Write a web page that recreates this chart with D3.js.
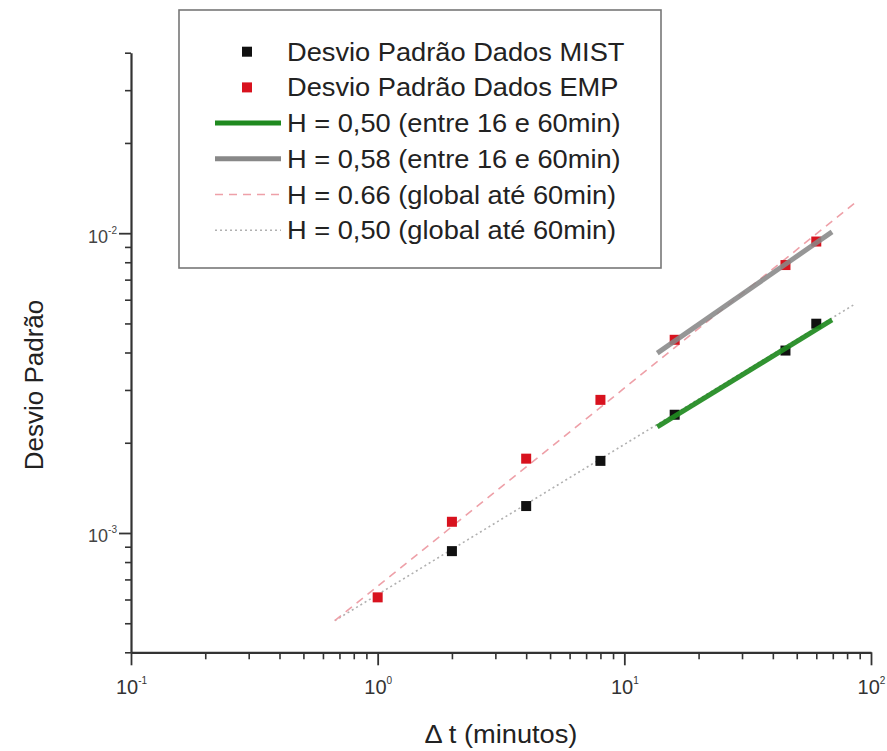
<!DOCTYPE html>
<html>
<head>
<meta charset="utf-8">
<script src="https://cdn.jsdelivr.net/npm/d3@7"></script>
<style>
  html, body { margin: 0; padding: 0; background: #fff; }
  svg { display: block; font-family: "Liberation Sans", Arial, sans-serif; }
</style>
</head>
<body>
<div id="chart"></div>
<script>
// desvio padrão x intervalo de tempo (log-log)

const TEMPOS   = [1, 2, 4, 8, 16, 45, 60];
const DP_MIST  = [null, 8.7e-4, 1.23e-3, 1.74e-3, 2.48e-3, 4.06e-3, 4.99e-3];
const DP_EMP   = [6.1e-4, 1.09e-3, 1.77e-3, 2.78e-3, 4.41e-3, 7.83e-3, 9.38e-3];

// retas ajustadas (extremos)
const AJ_MIST_T    = [13.6, 69.5];
const AJ_MIST_DP   = [2.26e-3, 5.14e-3];
const AJ_EMP_T     = [13.6, 69.5];
const AJ_EMP_DP    = [3.98e-3, 1.01e-2];
const GLOB_EMP_T   = [0.67, 88];
const GLOB_EMP_DP  = [5.1e-4, 1.28e-2];
const GLOB_MIST_T  = [0.67, 86];
const GLOB_MIST_DP = [5.1e-4, 5.8e-3];

const X_TICKS = [0.1, 1, 10, 100];
const X_EXP   = ["-1", "0", "1", "2"];
const Y_TICKS = [1e-3, 1e-2];
const Y_EXP   = ["-3", "-2"];

const LEGENDA = [
  "Desvio Padrão Dados MIST",
  "Desvio Padrão Dados EMP",
  "H = 0,50 (entre 16 e 60min)",
  "H = 0,58 (entre 16 e 60min)",
  "H = 0.66 (global até 60min)",
  "H = 0,50 (global até 60min)"
];

const W = 887, H = 751;
const ESTICA = 1.09; // texto do original é mais largo

const svg = d3.select("#chart").append("svg")
  .attr("width", W)
  .attr("height", H);

const x = d3.scaleLog().domain([0.1, 100]).range([131, 871]);
const y = d3.scaleLog().domain([4e-4, 4e-2]).range([652.3, 52.7]);

const isMajor = v => Math.abs(Math.log10(v) - Math.round(Math.log10(v))) < 1e-6;

// eixo x - ticks menores
svg.append("g")
  .attr("transform", `translate(0,${y.range()[0]})`)
  .call(d3.axisBottom(x).tickValues(x.ticks().filter(v => !isMajor(v))).tickSize(7).tickFormat(""))
  .call(g => g.select(".domain").remove())
  .selectAll("line").attr("stroke", "#333").attr("stroke-width", 1.6);

const xAxis = svg.append("g")
  .attr("transform", `translate(0,${y.range()[0]})`)
  .call(d3.axisBottom(x).tickValues(X_TICKS).tickSize(13).tickSizeOuter(0).tickFormat(""));
xAxis.select(".domain").attr("stroke", "#333").attr("stroke-width", 2.2);
xAxis.selectAll(".tick line").attr("stroke", "#333").attr("stroke-width", 1.8);
xAxis.selectAll(".tick").append("text")
  .attr("y", 42)
  .attr("x", 0)
  .attr("fill", "#333")
  .attr("font-size", 20)
  .attr("text-anchor", "middle")
  .each(function(d, i) {
    const t = d3.select(this);
    t.append("tspan").text("10");
    t.append("tspan").attr("dy", -10).attr("font-size", 10).text(X_EXP[i]);
  });

// eixo y
svg.append("g")
  .attr("transform", `translate(${x.range()[0]},0)`)
  .call(d3.axisLeft(y).tickValues(y.ticks().filter(v => !isMajor(v))).tickSize(6).tickFormat(""))
  .call(g => g.select(".domain").remove())
  .selectAll("line").attr("stroke", "#333").attr("stroke-width", 1.6);

const yAxis = svg.append("g")
  .attr("transform", `translate(${x.range()[0]},0)`)
  .call(d3.axisLeft(y).tickValues(Y_TICKS).tickSize(12).tickSizeOuter(0).tickFormat(""));
yAxis.select(".domain").attr("stroke", "#333").attr("stroke-width", 2.2);
yAxis.selectAll(".tick line").attr("stroke", "#333").attr("stroke-width", 1.8);
yAxis.selectAll(".tick").append("text")
  .attr("x", -14)
  .attr("y", 9)
  .attr("fill", "#444")
  .attr("font-size", 18)
  .attr("text-anchor", "end")
  .each(function(d, i) {
    const t = d3.select(this);
    t.append("tspan").text("10");
    t.append("tspan").attr("dy", -9).attr("font-size", 10).text(Y_EXP[i]);
  });

// títulos dos eixos
svg.append("g")
  .attr("transform", `translate(${(x.range()[0] + x.range()[1]) / 2},743) scale(${ESTICA},1)`)
  .append("text")
  .attr("text-anchor", "middle")
  .attr("font-size", 25)
  .attr("fill", "#222")
  .text("Δ t (minutos)");

svg.append("g")
  .attr("transform", `translate(43,385) rotate(-90) scale(1.04,1)`)
  .append("text")
  .attr("text-anchor", "middle")
  .attr("font-size", 25)
  .attr("fill", "#222")
  .text("Desvio Padrão");

// retas globais
const linha = (ts, vs) => d3.line().x(d => x(d[0])).y(d => y(d[1]))(d3.zip(ts, vs));

svg.append("path")
  .attr("d", linha(GLOB_MIST_T, GLOB_MIST_DP))
  .attr("fill", "none")
  .attr("stroke", "#b0b0b0")
  .attr("stroke-width", 1.6)
  .attr("stroke-dasharray", "2,3");

svg.append("path")
  .attr("d", linha(GLOB_EMP_T, GLOB_EMP_DP))
  .attr("fill", "none")
  .attr("stroke", "#eea0a8")
  .attr("stroke-width", 1.6)
  .attr("stroke-dasharray", "8,6");

// pontos
const MARK = 10;
const pontos = (vals, cor) => svg.append("g")
  .selectAll("rect")
  .data(d3.zip(TEMPOS, vals).filter(d => d[1] != null))
  .enter()
  .append("rect")
  .attr("x", d => x(d[0]) - MARK / 2)
  .attr("y", d => y(d[1]) - MARK / 2)
  .attr("width", MARK)
  .attr("height", MARK)
  .attr("fill", cor);

pontos(DP_MIST, "#111");
pontos(DP_EMP, "#d8121e");

// retas 16-60 min por cima
svg.append("path")
  .attr("d", linha(AJ_MIST_T, AJ_MIST_DP))
  .attr("fill", "none")
  .attr("stroke", "#1f8a1f")
  .attr("stroke-opacity", 0.92)
  .attr("stroke-width", 5);

svg.append("path")
  .attr("d", linha(AJ_EMP_T, AJ_EMP_DP))
  .attr("fill", "none")
  .attr("stroke", "#888")
  .attr("stroke-opacity", 0.88)
  .attr("stroke-width", 5);

// legenda
const leg = svg.append("g");
leg.append("rect")
  .attr("x", 179).attr("y", 10)
  .attr("width", 482).attr("height", 258)
  .attr("fill", "#fff")
  .attr("stroke", "#777")
  .attr("stroke-width", 1.6);

const ESTILOS = [
  { tipo: "q", cor: "#111" },
  { tipo: "q", cor: "#d8121e" },
  { tipo: "l", cor: "#1f8a1f", w: 5, dash: null },
  { tipo: "l", cor: "#888", w: 5, dash: null },
  { tipo: "l", cor: "#eea0a8", w: 1.6, dash: "8,6" },
  { tipo: "l", cor: "#b0b0b0", w: 1.6, dash: "2,3" }
];

LEGENDA.forEach((txt, i) => {
  const cy = 51.7 + i * 35.7;
  const s = ESTILOS[i];
  if (s.tipo === "q") {
    leg.append("rect")
      .attr("x", 247 - MARK / 2).attr("y", cy - MARK / 2)
      .attr("width", MARK).attr("height", MARK)
      .attr("fill", s.cor);
  } else {
    leg.append("line")
      .attr("x1", 215).attr("x2", 281)
      .attr("y1", cy).attr("y2", cy)
      .attr("stroke", s.cor)
      .attr("stroke-width", s.w)
      .attr("stroke-dasharray", s.dash);
  }
  leg.append("g")
    .attr("transform", `translate(287,${cy + 9}) scale(${ESTICA},1)`)
    .append("text")
    .attr("font-size", 25)
    .attr("fill", "#222")
    .text(txt);
});
</script>
</body>
</html>
